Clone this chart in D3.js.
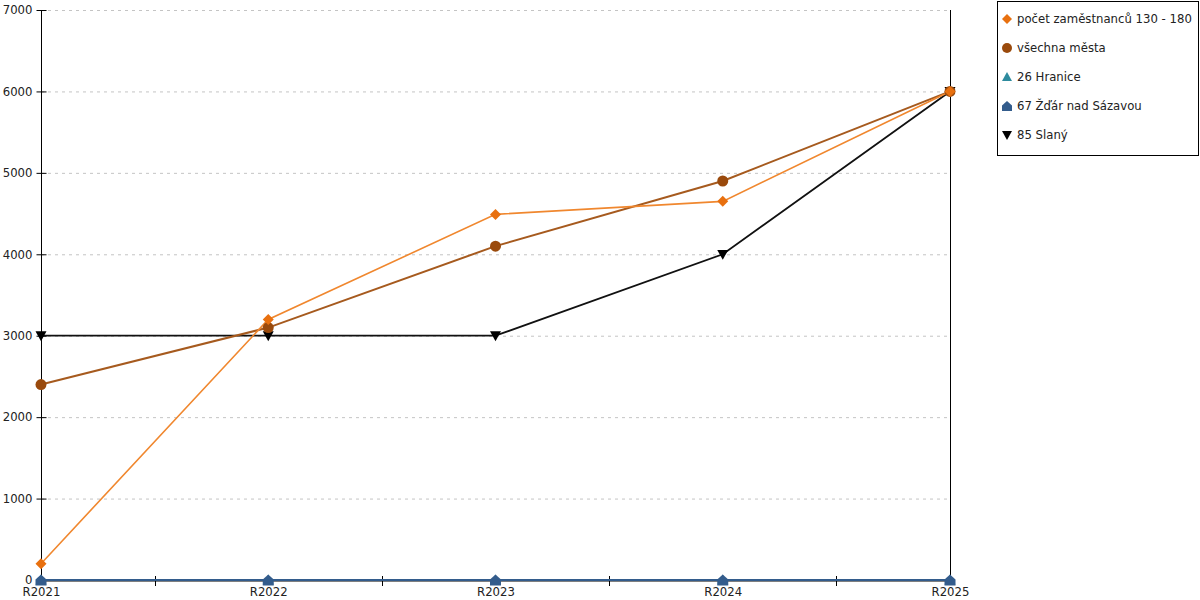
<!DOCTYPE html>
<html><head><meta charset="utf-8">
<script src="https://cdn.jsdelivr.net/npm/d3@7"></script>
<style>body{margin:0;background:#fff}svg{display:block;font-family:"DejaVu Sans",sans-serif}</style>
</head><body><svg id="c" width="1200" height="600"></svg>
<script>
const categories = ["R2021","R2022","R2023","R2024","R2025"];
const yTicks = [0,1000,2000,3000,4000,5000,6000,7000];
const seriesNames = ["počet zaměstnanců 130 - 180","všechna města","26 Hranice","67 Žďár nad Sázavou","85 Slaný"];
const pocet = [200,3200,4490,4650,6000];
const vsechna = [2400,3100,4100,4900,6000];
const hranice = [0,0,0,0,0];
const zdar = [0,0,0,0,0];
const slany = [3000,3000,3000,4000,6000];

const series = [
  {name:seriesNames[2], values:hranice, color:"#2E8B9E", line:"#2E8B9E", sym:"tri", w:2},
  {name:seriesNames[3], values:zdar, color:"#335C8C", line:"#335C8C", sym:"house", w:2},
  {name:seriesNames[4], values:slany, color:"#000", line:"#111", sym:"tridown", w:1.8},
  {name:seriesNames[1], values:vsechna, color:"#9A4A0C", line:"#A65A1E", sym:"circle", w:2},
  {name:seriesNames[0], values:pocet, color:"#E8700F", line:"#F0872E", sym:"diamond", w:1.6},
];
const legendOrder = [4,3,0,1,2];

const svg = d3.select("#c");
const L=41,R=950,T=10,B=580;
const x = d3.scalePoint().domain(categories).range([L,R]);
const y = d3.scaleLinear().domain([0,7000]).range([B,T]);

// grid
svg.append("g").selectAll("line").data(yTicks.filter(d=>d>0)).join("line")
  .attr("x1",L).attr("x2",R).attr("y1",d=>y(d)+0.5).attr("y2",d=>y(d)+0.5)
  .attr("stroke","#c4c4c4").attr("stroke-dasharray","3,4");

// y axis
const ya = svg.append("g").attr("transform",`translate(${L+0.5},0)`)
  .call(d3.axisLeft(y).tickValues(yTicks).tickFormat(d3.format("d")).tickSize(5).tickSizeOuter(0));
ya.select(".domain").remove();
ya.selectAll(".tick line").attr("x1",-5).attr("x2",5).attr("stroke","#000");
ya.selectAll("text").attr("font-size",11.7).attr("fill","#222").attr("x",-9).attr("font-family","DejaVu Sans");
svg.append("line").attr("x1",L+0.5).attr("x2",L+0.5).attr("y1",T).attr("y2",B).attr("stroke","#000");
svg.append("line").attr("x1",R+0.5).attr("x2",R+0.5).attr("y1",T).attr("y2",B).attr("stroke","#000");

// x axis
const xa = svg.append("g").attr("transform",`translate(0,${B+0.5})`)
  .call(d3.axisBottom(x).tickSize(0).tickSizeOuter(0));
xa.select(".domain").attr("stroke","#000");
xa.selectAll("text").attr("font-size",11.7).attr("fill","#222").attr("dy","1.1em").attr("font-family","DejaVu Sans");
// minor ticks between categories
const mids = categories.slice(1).map((c,i)=>(x(categories[i])+x(c))/2);
svg.append("g").selectAll("line").data(mids).join("line")
  .attr("x1",d=>Math.round(d)+0.5).attr("x2",d=>Math.round(d)+0.5).attr("y1",B-4).attr("y2",B+6).attr("stroke","#000");

function symPath(s, size){
  const h=size/2;
  if(s==="diamond") return `M0,${-h}L${h},0L0,${h}L${-h},0Z`;
  if(s==="tri") return `M0,${-h}L${h},${h*0.8}L${-h},${h*0.8}Z`;
  if(s==="tridown") return `M${-h},${-h*0.8}L${h},${-h*0.8}L0,${h}Z`;
  if(s==="house") return `M0,${-h}L${h},${-h*0.1}L${h},${h}L${-h},${h}L${-h},${-h*0.1}Z`;
  return null;
}
function drawSym(g, s, color, cx, cy, size){
  if(s==="circle") g.append("circle").attr("cx",cx).attr("cy",cy).attr("r",size/2).attr("fill",color);
  else g.append("path").attr("d",symPath(s,size)).attr("transform",`translate(${cx},${cy})`).attr("fill",color);
}

const line = d3.line().x((d,i)=>x(categories[i])).y(d=>y(d));
series.forEach(s=>{
  svg.append("path").datum(s.values).attr("d",line).attr("fill","none")
    .attr("stroke",s.line).attr("stroke-width",s.w);
});
series.forEach(s=>{
  const g=svg.append("g");
  s.values.forEach((v,i)=>drawSym(g,s.sym,s.color,x(categories[i]),y(v),11));
});

// legend
const lg = svg.append("g");
lg.append("rect").attr("x",997.5).attr("y",1.5).attr("width",201).attr("height",154).attr("fill","#fff").attr("stroke","#000");
legendOrder.forEach((si,k)=>{
  const s=series[si];
  const cy=19+k*29;
  drawSym(lg,s.sym,s.color,1007,cy,10);
  lg.append("text").attr("x",1017).attr("y",cy).attr("dy","0.35em").attr("font-size",11.7).attr("fill","#222").text(s.name);
});
</script></body></html>
